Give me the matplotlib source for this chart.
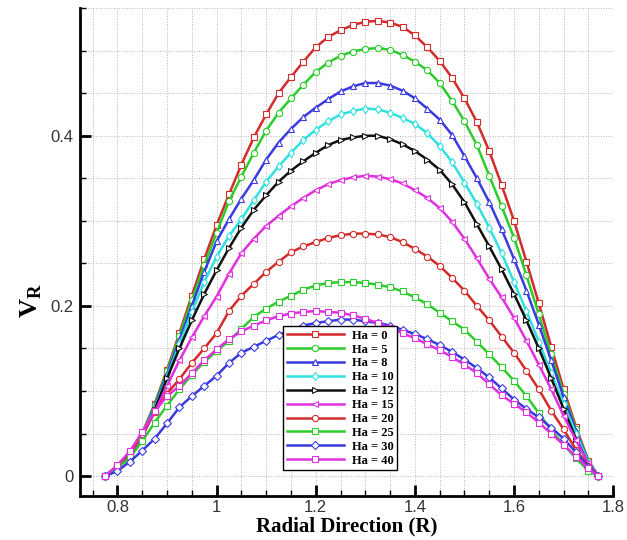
import matplotlib
matplotlib.use("Agg")
import matplotlib.pyplot as plt
from matplotlib.ticker import MultipleLocator, FuncFormatter

# radial positions shared by all curves
R = [0.775, 0.800, 0.825, 0.850, 0.875, 0.900, 0.925, 0.950, 0.975, 1.000,
     1.025, 1.050, 1.075, 1.100, 1.125, 1.150, 1.175, 1.200, 1.225, 1.250,
     1.275, 1.300, 1.325, 1.350, 1.375, 1.400, 1.425, 1.450, 1.475, 1.500,
     1.525, 1.550, 1.575, 1.600, 1.625, 1.650, 1.675, 1.700, 1.725, 1.750, 1.770]

vr_ha0 = [0.000, 0.012, 0.028, 0.050, 0.085, 0.125, 0.168, 0.212, 0.255, 0.295,
          0.331, 0.366, 0.398, 0.425, 0.450, 0.469, 0.487, 0.504, 0.516, 0.524,
          0.530, 0.534, 0.535, 0.533, 0.528, 0.518, 0.504, 0.488, 0.468, 0.444,
          0.416, 0.382, 0.342, 0.300, 0.252, 0.203, 0.152, 0.102, 0.058, 0.018, 0.000]
vr_ha5 = [0.000, 0.012, 0.028, 0.050, 0.084, 0.123, 0.165, 0.207, 0.248, 0.286,
          0.323, 0.352, 0.380, 0.406, 0.427, 0.444, 0.460, 0.475, 0.486, 0.494,
          0.499, 0.502, 0.503, 0.501, 0.495, 0.487, 0.477, 0.462, 0.441, 0.417,
          0.389, 0.353, 0.317, 0.280, 0.236, 0.190, 0.143, 0.097, 0.055, 0.018, 0.000]
vr_ha8 = [0.000, 0.012, 0.027, 0.049, 0.082, 0.120, 0.160, 0.200, 0.240, 0.276,
          0.302, 0.326, 0.348, 0.372, 0.392, 0.408, 0.422, 0.433, 0.443, 0.452,
          0.458, 0.462, 0.462, 0.459, 0.453, 0.444, 0.432, 0.419, 0.401, 0.376,
          0.350, 0.322, 0.290, 0.255, 0.218, 0.178, 0.136, 0.093, 0.053, 0.017, 0.000]
vr_ha10 = [0.000, 0.011, 0.026, 0.048, 0.080, 0.117, 0.155, 0.193, 0.228, 0.258,
           0.282, 0.302, 0.324, 0.346, 0.364, 0.380, 0.395, 0.407, 0.417, 0.425,
           0.429, 0.432, 0.431, 0.427, 0.421, 0.414, 0.403, 0.388, 0.369, 0.345,
           0.320, 0.292, 0.262, 0.228, 0.194, 0.158, 0.121, 0.085, 0.050, 0.016, 0.000]
vr_ha12 = [0.000, 0.011, 0.025, 0.046, 0.078, 0.115, 0.150, 0.183, 0.214, 0.242,
           0.268, 0.292, 0.313, 0.330, 0.346, 0.359, 0.370, 0.380, 0.389, 0.395,
           0.398, 0.400, 0.400, 0.396, 0.390, 0.382, 0.372, 0.360, 0.343, 0.322,
           0.296, 0.270, 0.243, 0.214, 0.183, 0.150, 0.115, 0.079, 0.044, 0.014, 0.000]
vr_ha15 = [0.000, 0.011, 0.026, 0.047, 0.075, 0.106, 0.136, 0.163, 0.188, 0.211,
           0.238, 0.262, 0.279, 0.294, 0.306, 0.317, 0.327, 0.336, 0.343, 0.348,
           0.351, 0.353, 0.352, 0.349, 0.344, 0.336, 0.327, 0.315, 0.299, 0.279,
           0.256, 0.232, 0.210, 0.186, 0.159, 0.131, 0.102, 0.071, 0.042, 0.015, 0.000]
vr_ha20 = [0.000, 0.011, 0.027, 0.050, 0.075, 0.097, 0.114, 0.133, 0.150, 0.168,
           0.194, 0.212, 0.226, 0.240, 0.252, 0.263, 0.270, 0.275, 0.280, 0.283,
           0.285, 0.285, 0.284, 0.281, 0.275, 0.267, 0.258, 0.247, 0.233, 0.218,
           0.200, 0.183, 0.164, 0.145, 0.124, 0.102, 0.077, 0.055, 0.031, 0.012, 0.000]
vr_ha25 = [0.000, 0.009, 0.022, 0.041, 0.063, 0.083, 0.102, 0.119, 0.134, 0.147,
           0.159, 0.173, 0.187, 0.197, 0.205, 0.212, 0.219, 0.224, 0.227, 0.228,
           0.228, 0.227, 0.225, 0.222, 0.217, 0.210, 0.202, 0.192, 0.182, 0.172,
           0.158, 0.143, 0.128, 0.112, 0.094, 0.074, 0.054, 0.037, 0.021, 0.006, 0.000]
vr_ha30 = [0.000, 0.006, 0.017, 0.030, 0.044, 0.062, 0.081, 0.094, 0.106, 0.118,
           0.133, 0.145, 0.152, 0.159, 0.166, 0.172, 0.177, 0.180, 0.182, 0.184,
           0.184, 0.182, 0.180, 0.177, 0.172, 0.167, 0.161, 0.154, 0.146, 0.137,
           0.127, 0.116, 0.103, 0.090, 0.079, 0.069, 0.057, 0.044, 0.028, 0.011, 0.000]
vr_ha40 = [0.000, 0.013, 0.029, 0.052, 0.076, 0.094, 0.106, 0.121, 0.136, 0.149,
           0.161, 0.170, 0.177, 0.183, 0.188, 0.191, 0.193, 0.194, 0.193, 0.192,
           0.189, 0.185, 0.180, 0.174, 0.168, 0.162, 0.155, 0.148, 0.140, 0.131,
           0.121, 0.108, 0.095, 0.085, 0.075, 0.063, 0.050, 0.037, 0.023, 0.009, 0.000]

labels = ["Ha = 0", "Ha = 5", "Ha = 8", "Ha = 10", "Ha = 12",
          "Ha = 15", "Ha = 20", "Ha = 25", "Ha = 30", "Ha = 40"]
series = [vr_ha0, vr_ha5, vr_ha8, vr_ha10, vr_ha12,
          vr_ha15, vr_ha20, vr_ha25, vr_ha30, vr_ha40]
colors = ["#d42a2a", "#2ccc2c", "#3a3ae0", "#30e0e0", "#111111",
          "#e030e0", "#d42a2a", "#2ccc2c", "#3a3ae0", "#e030e0"]
markers = ["s", "o", "^", "d", ">", "<", "o", "s", "D", "s"]

plt.rcParams["mathtext.fontset"] = "custom"
plt.rcParams["mathtext.bf"] = "Liberation Serif:bold"
plt.rcParams["mathtext.rm"] = "Liberation Serif:bold"

fig = plt.figure(figsize=(6.27, 5.40), dpi=100)
ax = fig.add_axes([0.128, 0.082, 0.850, 0.903])

for y, c, m, lab in zip(series, colors, markers, labels):
    ax.plot(R, y, color=c, linewidth=1.8, marker=m, markersize=4.5,
            markerfacecolor="white", markeredgecolor=c, markeredgewidth=0.8,
            label=lab)

ax.set_xlim(0.725, 1.8)
ax.set_ylim(-0.023, 0.55)
ax.xaxis.set_major_locator(MultipleLocator(0.2))
ax.xaxis.set_minor_locator(MultipleLocator(0.05))
ax.yaxis.set_major_locator(MultipleLocator(0.2))
ax.yaxis.set_minor_locator(MultipleLocator(0.05))
fmt = FuncFormatter(lambda v, p: "%g" % round(v, 3))
ax.xaxis.set_major_formatter(fmt)
ax.yaxis.set_major_formatter(fmt)

ax.grid(which="both", linestyle=":", color="#b5b5b5", linewidth=0.7)
ax.set_axisbelow(True)
for s in ["top", "right"]:
    ax.spines[s].set_visible(False)
for s in ["left", "bottom"]:
    ax.spines[s].set_linewidth(2)

ax.tick_params(which="major", direction="in", length=8, width=2,
               labelsize=12, labelcolor="#333333")
ax.tick_params(axis="x", which="major", pad=3)
ax.tick_params(axis="y", which="major", pad=5)
ax.tick_params(which="minor", direction="in", length=4, width=1)
for t in ax.get_xticklabels() + ax.get_yticklabels():
    t.set_family("Liberation Sans")

ax.set_xlabel("Radial Direction (R)", family="Liberation Serif",
              fontweight="bold", fontsize=15, labelpad=1)
ax.set_ylabel(r"$\mathbf{V}_{\mathbf{R}}$", fontsize=19)
ax.yaxis.set_label_coords(-0.068, 0.40)

leg = ax.legend(loc="lower left", bbox_to_anchor=(0.38, 0.052),
                prop={"family": "Liberation Serif", "weight": "bold", "size": 9},
                frameon=True, fancybox=False, edgecolor="black", framealpha=1,
                handlelength=4.6, labelspacing=0.15, borderpad=0.3,
                handletextpad=0.6, numpoints=1, borderaxespad=0)
leg.get_frame().set_linewidth(1.0)

fig.savefig("out.png", dpi=100)
